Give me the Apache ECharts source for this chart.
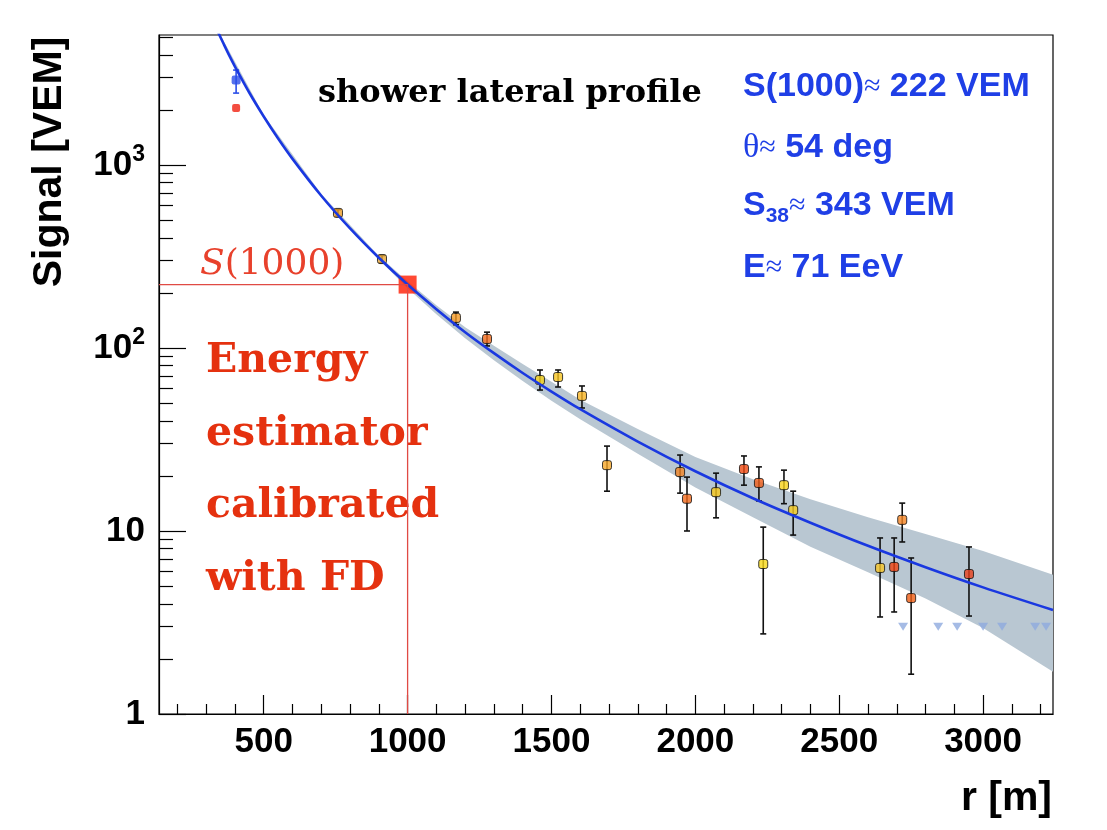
<!DOCTYPE html>
<html>
<head>
<meta charset="utf-8">
<title>shower lateral profile</title>
<script src="https://cdn.jsdelivr.net/npm/echarts@6/dist/echarts.min.js"></script>
<style>
  html, body { margin: 0; padding: 0; background: #ffffff; }
  #chart { width: 1107px; height: 830px; }
</style>
</head>
<body>
<div id="chart"></div>
<script>
// ---- axis ranges ----
const rRange = [136, 3243];       // distance to shower axis [m]
const sRange = [1, 5130];         // signal [VEM]

// ---- tick positions ----
const xMajorTicks = [500, 1000, 1500, 2000, 2500, 3000];
const xMinorTicks = [200, 300, 400, 600, 700, 800, 900, 1100, 1200, 1300, 1400, 1600, 1700, 1800, 1900,
                     2100, 2200, 2300, 2400, 2600, 2700, 2800, 2900, 3100, 3200];
const yMajorTicks = [1, 10, 100, 1000];
const yMinorTicks = [2, 3, 4, 5, 6, 7, 8, 9, 20, 30, 40, 50, 60, 70, 80, 90,
                     200, 300, 400, 500, 600, 700, 800, 900, 2000, 3000, 4000, 5000];

// ---- triggered stations ----
const stationR  = [758, 911, 1168, 1276, 1460, 1523, 1606, 1693, 1947, 1971, 2072,
                   2169, 2221, 2236, 2308, 2340, 2642, 2691, 2719, 2750, 2951];
const stationS  = [547, 306, 146, 112, 66.8, 69.4, 54.7, 22.9, 21.0, 15.0, 16.3,
                   21.8, 18.3, 6.6, 17.8, 13.0, 6.28, 6.36, 11.5, 4.30, 5.82];
const stationLo = [525, 292, 134, 102.6, 58.9, 61.2, 47.0, 16.5, 16.1, 10.0, 11.8,
                   17.8, 14.6, 2.74, 14.1, 9.5, 3.39, 3.61, 8.71, 1.65, 3.43];
const stationHi = [570, 320, 157, 122, 75.8, 75.8, 62.0, 29.1, 26.0, 19.7, 20.7,
                   25.7, 22.4, 10.5, 21.5, 16.5, 9.16, 9.16, 14.2, 7.12, 8.18];
const stationColor = ['#f0a028', '#e8a838', '#f59a26', '#f06a1c', '#f8d21a', '#f8c420', '#f8b424',
                      '#f5a628', '#f28424', '#f26a1c', '#f8c81c', '#f04a12', '#f05c18', '#f8d818',
                      '#f8d21c', '#f8cc20', '#f8c628', '#f04412', '#f58424', '#f05e14', '#e8401a'];

// ---- saturated station: recovered and measured signal ----
const saturatedR = [404];
const recoveredS = [2912];
const recoveredLo = [2470];
const recoveredHi = [3300];
const measuredS = [2047];

// ---- silent stations ----
const silentR = [2722, 2844, 2910, 3000, 3066, 3181, 3219];
const silentS = [3, 3, 3, 3, 3, 3, 3];

// ---- lateral distribution fit ----
const fitR = [340, 360, 380, 400, 450, 500, 550, 600, 700, 800, 900, 1000, 1100, 1200, 1300,
              1400, 1500, 1600, 1800, 2000, 2200, 2400, 2600, 2800, 3000, 3243];
const fitS = [5370, 4610, 3970, 3450, 2480, 1840, 1395, 1080, 679, 450, 311, 222, 163, 122, 93.7,
              73.0, 57.8, 46.3, 30.8, 21.2, 15.1, 11.1, 8.30, 6.34, 4.92, 3.70];

// ---- fit uncertainty band ----
const bandR  = [340, 500, 700, 900, 1000, 1100, 1200, 1300, 1400, 1500, 1600, 1800,
                2000, 2200, 2400, 2600, 2800, 3000, 3243];
const bandHi = [5480, 1875, 693, 318, 231.7, 171.3, 129.6, 102.9, 81.8, 65.4, 52.2, 36.1,
                25.4, 19.2, 14.9, 11.9, 9.63, 7.77, 5.77];
const bandLo = [5260, 1805, 665, 304, 212.2, 153.0, 113.1, 85.8, 66.0, 51.5, 40.8, 26.4,
                17.3, 11.9, 8.21, 5.95, 4.27, 2.95, 1.70];

// ---- reference distance ----
const refR = 1000;
const refS = 222;

const chart = echarts.init(document.getElementById('chart'), null, { renderer: 'canvas' });

const SANS = '"Liberation Sans", Arial, sans-serif';
const SERIF = '"DejaVu Serif", serif';
const BLUE = '#1f3fe6';
const RED_TEXT = '#e5310f';

function errorBars(color) {
  return function (params, api) {
    const x = api.value(0);
    const lo = api.coord([x, api.value(1)]);
    const hi = api.coord([x, api.value(2)]);
    const w = 3;
    const style = { stroke: color, lineWidth: 1.6 };
    return {
      type: 'group',
      children: [
        { type: 'line', shape: { x1: lo[0], y1: lo[1], x2: hi[0], y2: hi[1] }, style },
        { type: 'line', shape: { x1: lo[0] - w, y1: lo[1], x2: lo[0] + w, y2: lo[1] }, style },
        { type: 'line', shape: { x1: hi[0] - w, y1: hi[1], x2: hi[0] + w, y2: hi[1] }, style }
      ]
    };
  };
}

const option = {
  backgroundColor: '#ffffff',
  animation: false,
  grid: {
    left: 159, top: 35, width: 894, height: 679,
    show: true, borderColor: '#000', borderWidth: 1.2, backgroundColor: 'transparent'
  },
  xAxis: [
    {
      type: 'value', min: rRange[0], max: rRange[1], position: 'bottom',
      axisLine: { show: true, lineStyle: { color: '#000', width: 1.2 } },
      axisTick: { show: true, inside: true, length: 19, customValues: xMajorTicks,
                  lineStyle: { color: '#000', width: 1.2 } },
      axisLabel: { customValues: xMajorTicks, margin: 11, color: '#000',
                   fontFamily: SANS, fontWeight: 'bold', fontSize: 35,
                   formatter: function (v) { return String(Math.round(v)); } },
      splitLine: { show: false }
    },
    {
      type: 'value', min: rRange[0], max: rRange[1], position: 'bottom',
      axisLine: { show: false },
      axisTick: { show: true, inside: true, length: 10, customValues: xMinorTicks,
                  lineStyle: { color: '#000', width: 1.2 } },
      axisLabel: { show: false },
      splitLine: { show: false }
    }
  ],
  yAxis: [
    {
      type: 'log', logBase: 10, min: sRange[0], max: sRange[1], position: 'left',
      axisLine: { show: true, lineStyle: { color: '#000', width: 1.2 } },
      axisTick: { show: true, inside: true, length: 27, customValues: yMajorTicks,
                  lineStyle: { color: '#000', width: 1.2 } },
      axisLabel: {
        customValues: yMajorTicks, margin: 14, color: '#000',
        fontFamily: SANS, fontWeight: 'bold', fontSize: 35,
        formatter: function (v) {
          const p = Math.round(Math.log10(v));
          if (p === 0) return '1';
          if (p === 1) return '10';
          return '10{sup|' + p + '}';
        },
        rich: {
          sup: { fontFamily: SANS, fontWeight: 'bold', fontSize: 23, color: '#000',
                 padding: [0, 0, 20, 0] }
        }
      },
      splitLine: { show: false }
    },
    {
      type: 'log', logBase: 10, min: sRange[0], max: sRange[1], position: 'left',
      axisLine: { show: false },
      axisTick: { show: true, inside: true, length: 14, customValues: yMinorTicks,
                  lineStyle: { color: '#000', width: 1.2 } },
      axisLabel: { show: false },
      splitLine: { show: false }
    }
  ],
  series: [
    {
      name: 'fit band',
      type: 'custom',
      clip: true,
      silent: true,
      data: [[refR, refS]],
      renderItem: function (params, api) {
        const pts = [];
        for (let i = 0; i < bandR.length; i++) pts.push(api.coord([bandR[i], bandHi[i]]));
        for (let i = bandR.length - 1; i >= 0; i--) pts.push(api.coord([bandR[i], bandLo[i]]));
        return { type: 'polygon', shape: { points: pts }, style: { fill: '#b9c7d2' } };
      }
    },
    {
      name: 'LDF fit',
      type: 'line',
      data: fitR.map((r, i) => [r, fitS[i]]),
      showSymbol: false,
      smooth: 0.3,
      clip: true,
      lineStyle: { color: '#1a38e0', width: 2.6 }
    },
    {
      name: 'S(1000) guide',
      type: 'line',
      data: [[rRange[0], refS], [refR, refS], [refR, sRange[0]]],
      showSymbol: false,
      lineStyle: { color: '#e04a44', width: 1.3 }
    },
    {
      name: 'S(1000)',
      type: 'scatter',
      data: [[refR, refS]],
      symbol: 'rect',
      symbolSize: 18,
      itemStyle: { color: '#ff1c00' }
    },
    {
      name: 'station errors',
      type: 'custom',
      data: stationR.map((r, i) => [r, stationLo[i], stationHi[i]]),
      renderItem: errorBars('#111111')
    },
    {
      name: 'recovered errors',
      type: 'custom',
      data: saturatedR.map((r, i) => [r, recoveredLo[i], recoveredHi[i]]),
      renderItem: errorBars('#2a4ee8')
    },
    {
      name: 'stations',
      type: 'scatter',
      symbol: 'roundRect',
      symbolSize: 9,
      data: stationR.map((r, i) => ({
        value: [r, stationS[i]],
        itemStyle: { color: stationColor[i] }
      })),
      itemStyle: { borderColor: '#111', borderWidth: 1 }
    },
    {
      name: 'recovered signal',
      type: 'scatter',
      symbol: 'roundRect',
      symbolSize: 9,
      data: saturatedR.map((r, i) => [r, recoveredS[i]]),
      itemStyle: { color: '#2a4ee8' }
    },
    {
      name: 'measured signal',
      type: 'scatter',
      symbol: 'roundRect',
      symbolSize: 8,
      data: saturatedR.map((r, i) => [r, measuredS[i]]),
      itemStyle: { color: '#f02010' }
    },
    {
      name: 'silent stations',
      type: 'scatter',
      symbol: 'triangle',
      symbolRotate: 180,
      symbolSize: [10, 8],
      data: silentR.map((r, i) => [r, silentS[i]]),
      itemStyle: { color: '#8eaadf' }
    }
  ],
  graphic: [
    { type: 'text', x: 50, y: 162, rotation: Math.PI / 2,
      style: { text: 'Signal [VEM]', font: 'bold 41px ' + SANS, fill: '#000',
               align: 'center', verticalAlign: 'middle' } },
    { type: 'text', x: 1052, y: 799,
      style: { text: 'r [m]', font: 'bold 41px ' + SANS, fill: '#000',
               align: 'right', verticalAlign: 'middle' } },
    { type: 'text', x: 318, y: 94,
      style: { text: 'shower lateral profile', font: 'bold 32px ' + SERIF, fill: '#000',
               align: 'left', verticalAlign: 'middle' } },
    { type: 'text', x: 743, y: 87,
      style: { text: 'S(1000){s|≈} 222 VEM', font: 'bold 34px ' + SANS, fill: BLUE,
               align: 'left', verticalAlign: 'middle',
               rich: { s: { fontFamily: '"Liberation Serif", serif', fontSize: 30, fill: BLUE } } } },
    { type: 'text', x: 743, y: 148,
      style: { text: '{t|θ}{s|≈} 54 deg', font: 'bold 34px ' + SANS, fill: BLUE,
               align: 'left', verticalAlign: 'middle',
               rich: { t: { fontFamily: '"Liberation Serif", serif', fontSize: 34, fill: BLUE },
                       s: { fontFamily: '"Liberation Serif", serif', fontSize: 30, fill: BLUE } } } },
    { type: 'text', x: 743, y: 206,
      style: { text: 'S{sub|38}{s|≈} 343 VEM', font: 'bold 34px ' + SANS, fill: BLUE,
               align: 'left', verticalAlign: 'middle',
               rich: { sub: { fontFamily: SANS, fontWeight: 'bold', fontSize: 21, fill: BLUE,
                              padding: [20, 0, 0, 0] },
                       s: { fontFamily: '"Liberation Serif", serif', fontSize: 30, fill: BLUE } } } },
    { type: 'text', x: 743, y: 268,
      style: { text: 'E{s|≈} 71 EeV', font: 'bold 34px ' + SANS, fill: BLUE,
               align: 'left', verticalAlign: 'middle',
               rich: { s: { fontFamily: '"Liberation Serif", serif', fontSize: 30, fill: BLUE } } } },
    { type: 'text', x: 200, y: 265,
      style: { text: '{i|S}(1000)', font: '36px ' + SERIF, fill: '#e8412c',
               align: 'left', verticalAlign: 'middle',
               rich: { i: { fontFamily: SERIF, fontStyle: 'italic', fontSize: 36, fill: '#e8412c' } } } },
    { type: 'text', x: 206, y: 361,
      style: { text: 'Energy', font: 'bold 41px ' + SERIF, fill: RED_TEXT, align: 'left', verticalAlign: 'middle' } },
    { type: 'text', x: 206, y: 434,
      style: { text: 'estimator', font: 'bold 41px ' + SERIF, fill: RED_TEXT, align: 'left', verticalAlign: 'middle' } },
    { type: 'text', x: 206, y: 506,
      style: { text: 'calibrated', font: 'bold 41px ' + SERIF, fill: RED_TEXT, align: 'left', verticalAlign: 'middle' } },
    { type: 'text', x: 206, y: 579,
      style: { text: 'with FD', font: 'bold 41px ' + SERIF, fill: RED_TEXT, align: 'left', verticalAlign: 'middle' } }
  ]
};

chart.setOption(option);
</script>
</body>
</html>
